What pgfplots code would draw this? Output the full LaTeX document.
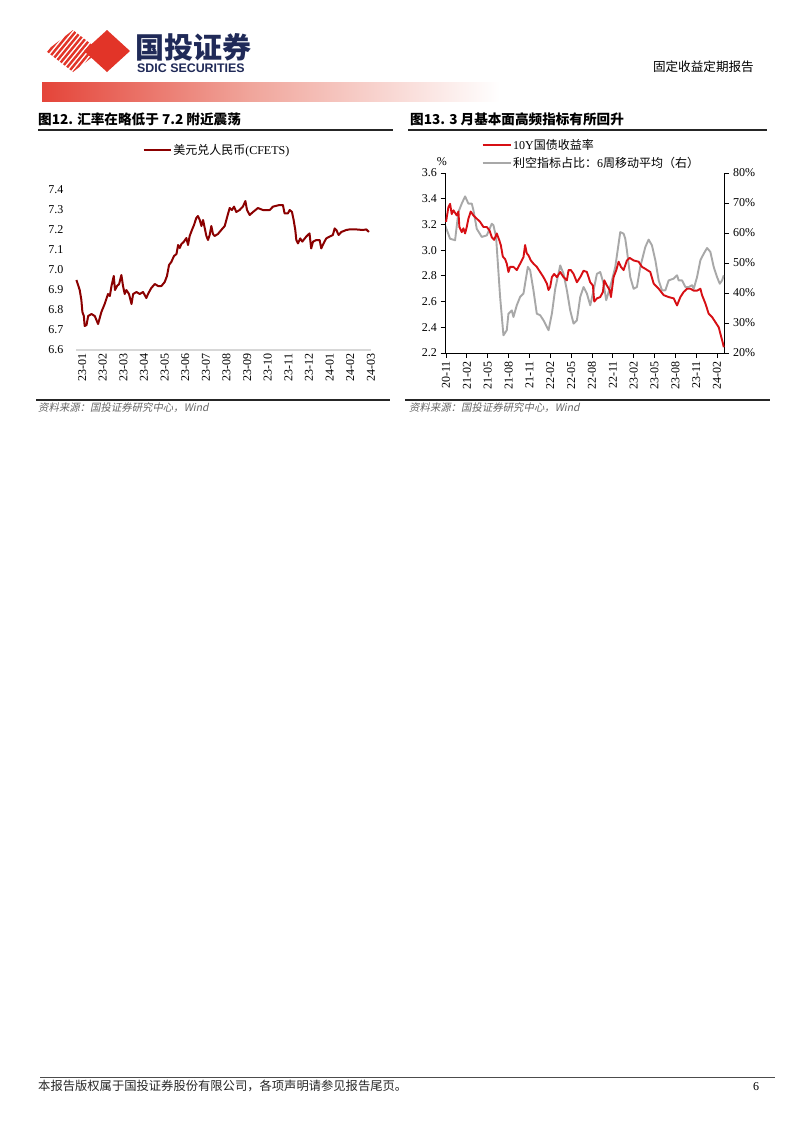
\documentclass[border=0pt]{standalone}
\usepackage{pgfplots}
\pgfplotsset{compat=1.18}
\usepackage{pgfplotstable}
\usepackage{fontspec}
\setmainfont{Liberation Serif}
\newfontfamily\cjk{Noto Sans CJK SC}
\newfontfamily\cjkit[FakeSlant=0.2]{Noto Sans CJK SC}
\newfontfamily\lsans{Liberation Sans}
\definecolor{logored}{RGB}{226,52,40}
\definecolor{logonavy}{RGB}{32,42,88}
\definecolor{fxred}{RGB}{139,0,0}
\definecolor{ylred}{RGB}{215,15,20}
\definecolor{ylgray}{RGB}{168,168,168}
\definecolor{axgray}{RGB}{215,215,215}

\pgfplotstableread{
m v
-0.13 6.95
0.03 6.90
0.11 6.85
0.16 6.79
0.23 6.77
0.27 6.72
0.36 6.725
0.44 6.77
0.60 6.78
0.76 6.77
0.92 6.73
1.00 6.76
1.08 6.79
1.24 6.83
1.40 6.88
1.49 6.87
1.57 6.92
1.68 6.97
1.74 6.90
1.84 6.92
1.94 6.93
2.05 6.975
2.13 6.92
2.21 6.88
2.29 6.90
2.42 6.88
2.54 6.83
2.62 6.88
2.78 6.89
2.94 6.88
3.10 6.89
3.26 6.86
3.34 6.88
3.50 6.91
3.67 6.93
3.83 6.92
3.99 6.92
4.15 6.94
4.26 6.97
4.36 7.025
4.47 7.04
4.60 7.07
4.72 7.08
4.80 7.125
4.88 7.11
4.96 7.13
5.07 7.14
5.20 7.16
5.28 7.125
5.36 7.17
5.47 7.20
5.57 7.225
5.68 7.26
5.76 7.27
5.85 7.25
5.93 7.22
6.01 7.25
6.09 7.21
6.17 7.17
6.25 7.15
6.33 7.175
6.41 7.22
6.49 7.18
6.57 7.17
6.73 7.18
6.89 7.20
7.06 7.22
7.19 7.27
7.30 7.31
7.41 7.30
7.51 7.317
7.62 7.29
7.78 7.30
7.94 7.317
8.06 7.345
8.14 7.30
8.27 7.275
8.43 7.29
8.67 7.31
8.91 7.30
9.24 7.30
9.40 7.317
9.72 7.325
9.88 7.325
9.96 7.283
10.12 7.283
10.21 7.30
10.32 7.29
10.40 7.25
10.48 7.20
10.53 7.15
10.61 7.133
10.72 7.158
10.82 7.142
11.01 7.167
11.17 7.183
11.25 7.108
11.34 7.142
11.50 7.15
11.66 7.15
11.74 7.108
11.85 7.133
11.98 7.158
12.14 7.167
12.30 7.175
12.39 7.208
12.47 7.20
12.58 7.175
12.71 7.19
12.95 7.20
13.11 7.203
13.43 7.203
13.76 7.20
13.92 7.203
14.05 7.19
}\fxtable

\pgfplotstableread{
m p
-0.14 62.6
0.58 58.1
1.30 57.6
1.78 67.0
2.26 69.8
2.74 72.2
3.22 69.8
3.70 69.8
3.94 67.6
4.42 61.4
5.14 58.7
5.86 59.2
6.58 63.1
6.82 62.6
7.20 58.7
7.78 38.7
8.26 25.9
8.74 27.6
8.98 33.1
9.46 34.2
9.70 32.0
10.18 35.9
10.66 38.7
11.14 39.8
11.53 45.3
11.77 48.7
12.10 47.6
12.58 40.9
13.06 33.1
13.54 32.6
14.02 30.9
14.75 27.6
15.23 33.1
15.71 41.4
16.43 49.2
16.91 46.4
17.39 40.9
17.87 34.2
18.35 29.8
18.83 30.9
19.31 38.7
19.79 42.0
20.27 39.8
20.75 35.9
21.23 40.9
21.71 46.4
22.19 47.0
22.67 43.1
23.05 37.6
23.39 40.3
23.87 44.2
24.35 48.7
24.83 56.4
25.07 60.3
25.55 59.8
25.79 58.1
26.03 54.2
26.51 45.3
26.99 41.4
27.47 42.0
27.95 48.7
28.67 55.3
29.15 57.8
29.63 55.9
30.12 50.9
30.60 44.2
31.08 40.9
31.56 40.9
32.04 44.2
32.76 44.8
33.24 45.9
33.48 44.2
33.96 44.2
34.44 42.0
34.92 42.0
35.40 42.6
35.64 41.4
36.12 45.3
36.60 50.9
37.08 53.1
37.56 55.0
38.04 53.7
38.52 48.7
39.00 45.3
39.39 43.1
39.72 44.2
39.96 45.9
}\graytable

\pgfplotstableread{
m y
0.00 3.22
0.34 3.335
0.58 3.36
0.82 3.28
1.06 3.31
1.54 3.27
1.78 3.30
1.92 3.18
2.26 3.14
2.50 3.17
2.74 3.13
2.98 3.18
3.22 3.245
3.55 3.30
3.94 3.27
4.42 3.245
4.90 3.22
5.38 3.18
5.86 3.18
6.24 3.155
6.58 3.10
6.92 3.08
7.30 3.13
7.64 3.08
7.88 3.04
8.17 2.95
8.50 2.93
8.74 2.895
8.98 2.83
9.22 2.87
9.70 2.87
10.18 2.845
10.66 2.895
11.14 2.945
11.38 3.04
11.62 2.975
11.86 2.96
12.20 2.92
12.58 2.895
13.06 2.87
13.54 2.83
14.02 2.79
14.51 2.74
14.75 2.69
14.99 2.715
15.23 2.79
15.56 2.815
15.95 2.79
16.43 2.83
16.91 2.79
17.39 2.765
17.63 2.845
17.96 2.845
18.35 2.815
18.83 2.75
19.31 2.79
19.79 2.84
20.27 2.83
20.75 2.75
21.13 2.725
21.33 2.60
21.71 2.625
22.19 2.635
22.57 2.675
22.77 2.765
23.15 2.725
23.54 2.69
23.73 2.635
24.11 2.79
24.50 2.845
24.83 2.91
25.17 2.87
25.55 2.845
26.03 2.92
26.42 2.94
26.99 2.92
27.71 2.91
28.19 2.87
28.67 2.855
29.39 2.83
29.88 2.74
30.60 2.70
31.32 2.65
32.04 2.635
32.76 2.625
33.24 2.57
33.72 2.635
34.20 2.675
34.68 2.70
35.16 2.70
35.64 2.685
36.12 2.685
36.60 2.70
36.84 2.65
37.32 2.585
37.80 2.505
38.28 2.48
38.76 2.44
39.24 2.40
39.48 2.35
39.87 2.27
39.96 2.245
}\yieldtable

\begin{document}
\begin{tikzpicture}
\fill[white] (0pt,0pt) rectangle (802pt,-1133pt);

% ---- logo ----
\begin{scope}
\clip (46pt,-51pt) -- (73pt,-30pt) -- (100pt,-51pt) -- (73pt,-72pt) -- cycle;
\foreach \i in {0,...,20} {\draw[logored, line width=2.4pt] ({(10+\i*5.2)*1pt},-80pt) -- ++(45pt,55pt);}
\end{scope}
\fill[logored] (84pt,-51pt) -- (107pt,-30pt) -- (130pt,-51pt) -- (107pt,-72pt) -- cycle;
\node[anchor=west, inner sep=0pt, text=logonavy] at (135pt,-47pt) {\cjk\bfseries\fontsize{29}{30}\selectfont 国投证券};
\node[anchor=west, inner sep=0pt, text=logonavy] at (137pt,-68pt) {\lsans\bfseries\fontsize{12.4}{13}\selectfont SDIC SECURITIES};
\shade[left color=logored!92, right color={rgb,255:red,240;green,165;blue,155}] (42pt,-82pt) rectangle (250pt,-101pt);
\shade[left color={rgb,255:red,240;green,165;blue,155}, right color=white] (250pt,-82pt) rectangle (500pt,-101pt);
\node[anchor=east, inner sep=0pt] at (754pt,-67pt) {\cjk\fontsize{12.6}{13}\selectfont 固定收益定期报告};

% ---- titles ----
\node[anchor=base west, inner sep=0pt] at (38pt,-124pt) {\cjk\bfseries\fontsize{13.6}{14}\selectfont 图12. 汇率在略低于 7.2 附近震荡};
\node[anchor=base west, inner sep=0pt] at (410pt,-124pt) {\cjk\bfseries\fontsize{13.6}{14}\selectfont 图13. 3 月基本面高频指标有所回升};
\draw[line width=1.2pt, black!85] (38pt,-130pt) -- (393pt,-130pt);
\draw[line width=1.2pt, black!85] (408pt,-130pt) -- (767pt,-130pt);

% ---- source lines ----
\draw[line width=1.2pt, black!85] (36pt,-400pt) -- (390pt,-400pt);
\draw[line width=1.2pt, black!85] (405pt,-400pt) -- (770pt,-400pt);
\node[anchor=base west, inner sep=0pt, text=black!60] at (38pt,-411pt) {\cjkit\fontsize{10.4}{11}\selectfont 资料来源：国投证券研究中心，Wind};
\node[anchor=base west, inner sep=0pt, text=black!60] at (409pt,-411pt) {\cjkit\fontsize{10.4}{11}\selectfont 资料来源：国投证券研究中心，Wind};

% ---- footer ----
\draw[line width=1pt, black!70] (40pt,-1077pt) -- (775pt,-1077pt);
\node[anchor=base west, inner sep=0pt, text=black!85] at (38pt,-1090pt) {\cjk\fontsize{12.3}{13}\selectfont 本报告版权属于国投证券股份有限公司，各项声明请参见报告尾页。};
\node[anchor=base west, inner sep=0pt] at (753pt,-1090pt) {\fontsize{12}{12}\selectfont 6};

% ---- left chart ----
\begin{axis}[
  at={(76pt,-350pt)}, anchor=south west, scale only axis,
  width=295pt, height=160pt,
  xmin=-0.15, xmax=14.15, ymin=6.6, ymax=7.4,
  axis x line*=bottom, axis y line*=left,
  x axis line style={-, axgray, line width=1.3pt},
  y axis line style={draw=none},
  major tick length=0pt,
  xtick={0,...,14},
  xticklabels={23-01,23-02,23-03,23-04,23-05,23-06,23-07,23-08,23-09,23-10,23-11,23-12,24-01,24-02,24-03},
  ytick={6.6,6.7,...,7.45},
  yticklabel style={xshift=-9pt, /pgf/number format/fixed, /pgf/number format/fixed zerofill, /pgf/number format/precision=1, /pgf/number format/assume math mode=true},
  tick label style={font=\fontsize{12}{13}\selectfont},
  xticklabel style={rotate=90, anchor=east, yshift=-3pt},
  clip=false,
  legend style={at={(0.225,1.25)}, anchor=west, draw=none, fill=none, inner sep=0pt,
    font=\fontsize{12}{13}\selectfont, nodes={inner sep=1.5pt}},
  legend image code/.code={\draw[#1, line width=2.2pt] (0pt,0pt) -- (27pt,0pt);},
]
\addplot[fxred, line width=2pt, line join=round] table[x=m, y=v] {\fxtable};
\addlegendentry{{\cjk 美元兑人民币}(CFETS)}
\end{axis}

% ---- right chart: gray (right axis) ----
\begin{axis}[
  at={(445pt,-353pt)}, anchor=south west, scale only axis,
  width=279pt, height=180pt,
  xmin=-0.15, xmax=40.0, ymin=20, ymax=80,
  axis x line=none, axis y line*=right,
  y axis line style={-, black, line width=0.8pt},
  ytick={20,30,...,80},
  yticklabel={\pgfmathprintnumber[assume math mode=true]{\tick}\%},
  tick style={black, line width=0.8pt},
  major tick length=4.5pt,
  tick align=outside,
  tick label style={font=\fontsize{12}{13}\selectfont},
  yticklabel style={xshift=1pt},
]
\addplot[ylgray, line width=1.9pt, line join=round] table[x=m, y=p] {\graytable};
\end{axis}

% ---- right chart: red (left axis) ----
\begin{axis}[
  at={(445pt,-353pt)}, anchor=south west, scale only axis,
  width=279pt, height=180pt,
  xmin=-0.15, xmax=40.0, ymin=2.2, ymax=3.6,
  axis x line*=bottom, axis y line*=left,
  axis line style={-, black, line width=0.8pt},
  tick style={black, line width=0.8pt},
  major tick length=4.5pt,
  tick align=outside,
  xtick={0,3,...,39},
  xticklabels={20-11,21-02,21-05,21-08,21-11,22-02,22-05,22-08,22-11,23-02,23-05,23-08,23-11,24-02},
  ytick={2.2,2.4,...,3.65},
  yticklabel style={/pgf/number format/fixed, /pgf/number format/fixed zerofill, /pgf/number format/precision=1, /pgf/number format/assume math mode=true},
  tick label style={font=\fontsize{12}{13}\selectfont},
  xticklabel style={rotate=90, anchor=east},
  clip=false,
  legend style={at={(0.13,1.105)}, anchor=west, draw=none, fill=none, inner sep=0pt,
    font=\fontsize{12}{13}\selectfont, nodes={inner sep=1.5pt}, row sep=3pt},
  legend cell align=left,
  legend image code/.code={\draw[#1, line width=2.2pt] (0pt,0pt) -- (28pt,0pt);},
]
\addplot[ylred, line width=1.9pt, line join=round] table[x=m, y=y] {\yieldtable};
\addlegendentry{10Y{\cjk 国债收益率}}
\addlegendimage{ylgray, line width=2.2pt}
\addlegendentry{{\cjk 利空指标占比：}6{\cjk 周移动平均（右）}}
\node[anchor=south east, inner sep=0pt] at (rel axis cs:0,1) [yshift=7pt, xshift=2pt] {\fontsize{12}{13}\selectfont\%};
\end{axis}
\end{tikzpicture}
\end{document}
